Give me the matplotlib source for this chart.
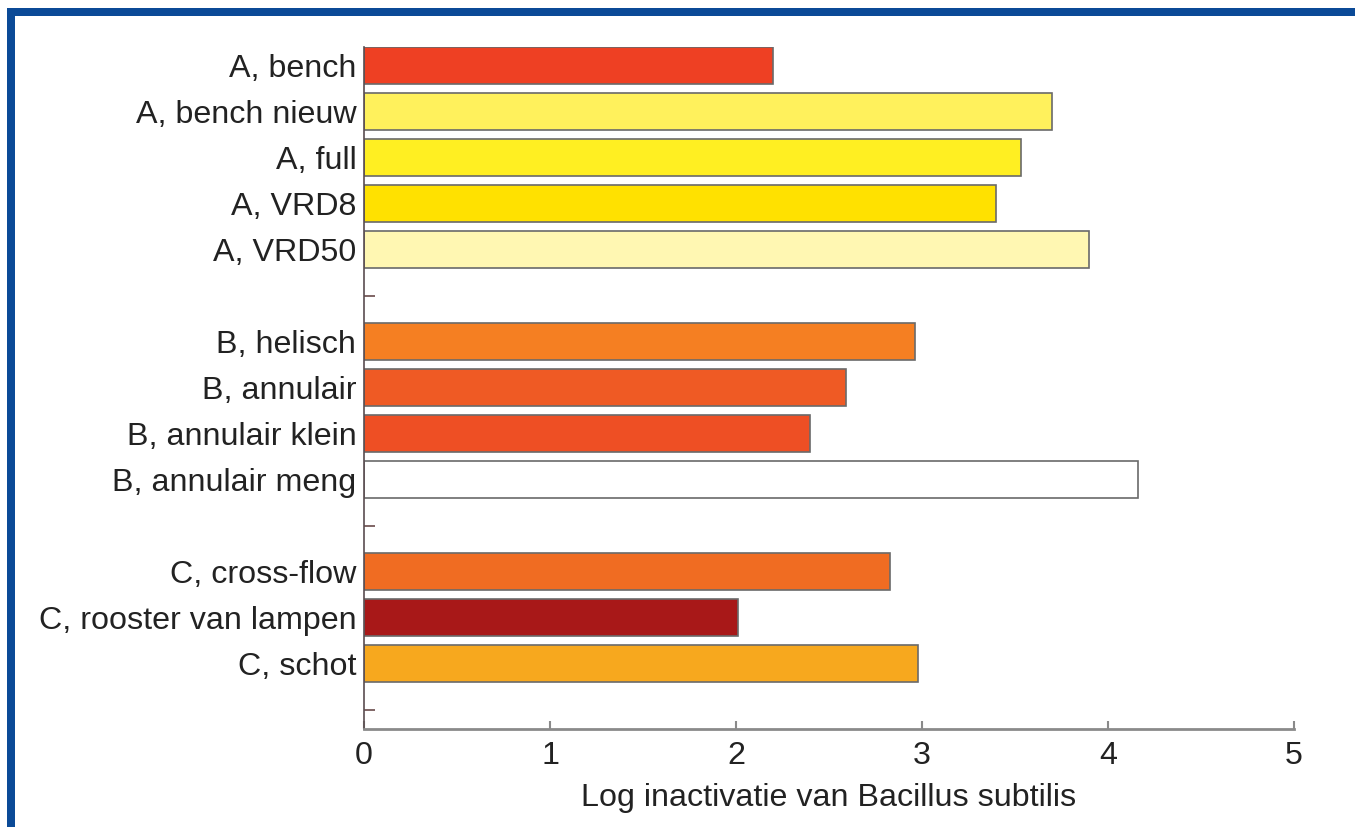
import matplotlib.pyplot as plt
from matplotlib.patches import Rectangle

plt.rcParams['font.family'] = ['Liberation Sans', 'DejaVu Sans']

# categories, top to bottom; '' = empty spacer row between groups
labels = ['A, bench', 'A, bench nieuw', 'A, full', 'A, VRD8', 'A, VRD50', '',
          'B, helisch', 'B, annulair', 'B, annulair klein', 'B, annulair meng', '',
          'C, cross-flow', 'C, rooster van lampen', 'C, schot', '']
values = [2.20, 3.70, 3.53, 3.40, 3.90, 0,
          2.96, 2.59, 2.40, 4.16, 0,
          2.83, 2.01, 2.98, 0]
colors = ['#ee4023', '#fff15c', '#ffef22', '#ffe100', '#fff7b2', 'none',
          '#f57f22', '#ef5a24', '#ee4f24', '#ffffff', 'none',
          '#f06c22', '#a81818', '#f7a81e', 'none']
xticks = [0, 1, 2, 3, 4, 5]

W, H = 1355, 827
fig = plt.figure(figsize=(W / 100, H / 100), dpi=100)
ax = fig.add_axes([364 / W, 1 - 729 / H, (1294 - 364) / W, (729 - 47.3) / H])
ax.set_axisbelow(True)  # ticks hidden behind the bars

ypos = list(range(len(labels)))
for y, v, c in zip(ypos, values, colors):
    if v > 0:
        ax.barh(y, v, height=0.8, color=c, edgecolor='#6a6a6a', linewidth=1.2)

ax.set_ylim(14.42, -0.4)
ax.set_xlim(0, 5)
ax.set_yticks(ypos)
ax.set_yticklabels(labels)
ax.set_xticks(xticks)
ax.set_xticklabels([str(t) for t in xticks])

for s in ['top', 'right']:
    ax.spines[s].set_visible(False)
ax.spines['left'].set_color('#5a4d50')
ax.spines['left'].set_linewidth(1.2)
ax.spines['bottom'].set_color('#8a8a8a')
ax.spines['bottom'].set_linewidth(2)

fs = 23.2
ax.tick_params(axis='y', direction='in', length=8, width=1.2, color='#6a4a4a',
               labelsize=fs, labelcolor='#222222', pad=5.5)
ax.tick_params(axis='x', direction='in', length=6, width=1.5, color='#8a8a8a',
               labelsize=fs, labelcolor='#222222', pad=9)
ax.set_xlabel('Log inactivatie van Bacillus subtilis', fontsize=fs,
              color='#222222', labelpad=8)

# blue frame (top and left edges)
blue = '#0b4a97'
fig.add_artist(Rectangle((7 / W, 1 - 16 / H), 1 - 7 / W, 8 / H,
                         transform=fig.transFigure, color=blue, lw=0))
fig.add_artist(Rectangle((7 / W, 0), 8 / W, 1 - 8 / H,
                         transform=fig.transFigure, color=blue, lw=0))

fig.savefig('out.png', dpi=100)
